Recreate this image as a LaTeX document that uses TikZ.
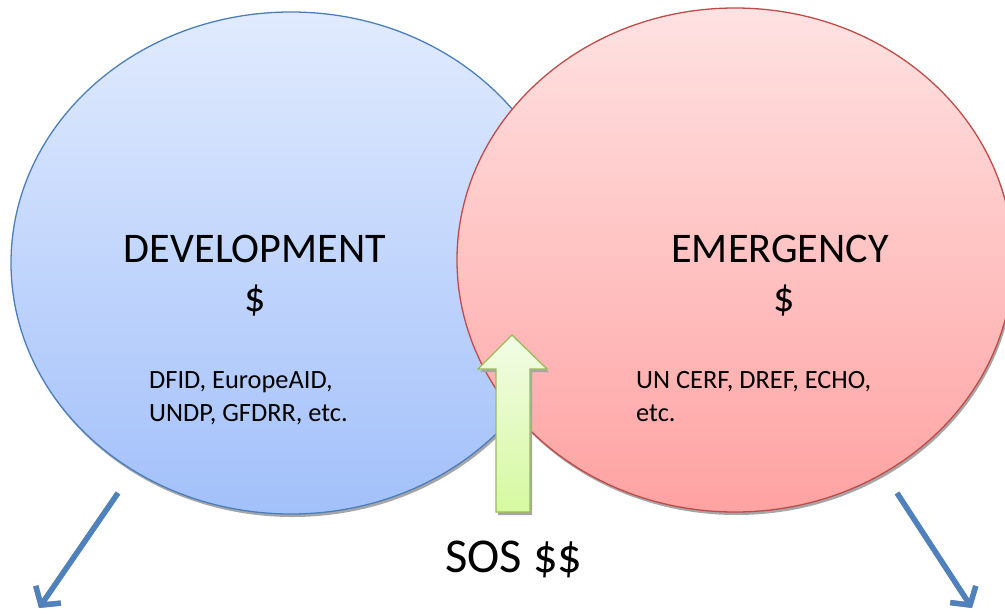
\documentclass[tikz,border=0pt]{standalone}
\usepackage{fontspec}
\setmainfont{Carlito}
\usetikzlibrary{arrows.meta}

\definecolor{devline}{HTML}{4A7EBB}
\definecolor{devtop}{HTML}{E1EBFE}
\definecolor{devbot}{HTML}{A2C0FA}
\definecolor{emline}{HTML}{BE4B48}
\definecolor{emtop}{HTML}{FFE2E2}
\definecolor{embot}{HTML}{FFA2A2}
\definecolor{sosline}{HTML}{9BBB59}
\definecolor{sostop}{HTML}{F2FCE6}
\definecolor{sosbot}{HTML}{D6F9A0}
\definecolor{flowblue}{HTML}{4F81BD}

\tikzset{
  shadow/.style={fill=black!35},
  bigtext/.style={font=\fontsize{36}{43}\selectfont,inner sep=0pt},
  smalltext/.style={font=\fontsize{22.5}{28}\selectfont,inner sep=0pt,align=left},
  flow/.style={line width=4.6pt,flowblue,-{Straight Barb[length=11pt,width=26pt]}}
}

\begin{document}
\begin{tikzpicture}[x=0.03cm,y=-0.03cm]
    \useasboundingbox (0,0) rectangle (1005,613);

    % development circle
    \fill[shadow] (292.5,266) ellipse (280 and 251);
    \shadedraw[top color=devtop,bottom color=devbot,draw=devline,line width=1.1pt] (291,263) ellipse (280 and 251);

    % emergency circle
    \fill[shadow] (736.5,263) ellipse (278 and 252);
    \shadedraw[top color=emtop,bottom color=embot,draw=emline,line width=1.1pt] (735,260) ellipse (278 and 252);

    % sos arrow
    \fill[shadow,shift={(2,3)}] (496,512) -- (496,369) -- (478,369) -- (512,335) -- (547,369) -- (530,369) -- (530,512) -- cycle;
    \shadedraw[top color=sostop,bottom color=sosbot,draw=sosline,line width=1.1pt]
      (496,512) -- (496,369) -- (478,369) -- (512,335) -- (547,369) -- (530,369) -- (530,512) -- cycle;

    \node[bigtext,anchor=base] (devtitle) at (255,262) {DEVELOPMENT};
    \node[bigtext,anchor=base] (devsign) at (255,311) {\$};
    \node[smalltext,anchor=base west] (devdonors) at (149,421) {DFID, EuropeAID,\\UNDP, GFDRR, etc.};

    \node[bigtext,anchor=base] (emtitle) at (780,262) {EMERGENCY};
    \node[bigtext,anchor=base] (emsign) at (784,311) {\$};
    \node[smalltext,anchor=base west] (emdonors) at (636,421) {UN CERF, DREF, ECHO,\\etc.};

    \node[font=\fontsize{41.5}{50}\selectfont,inner sep=0pt,anchor=base] (sos) at (514,572) {SOS \$\$};

    % outflows
    \coordinate (devout) at (118,493);
    \coordinate (devend) at (39,608);
    \coordinate (emout) at (897,493);
    \coordinate (emend) at (972,608);
    \draw[flow,black!35,shift={(1.5,2)}] (devout) -- (devend);
    \draw[flow,black!35,shift={(1.5,2)}] (emout) -- (emend);
    \draw[flow] (devout) -- (devend);
    \draw[flow] (emout) -- (emend);
\end{tikzpicture}
\end{document}
